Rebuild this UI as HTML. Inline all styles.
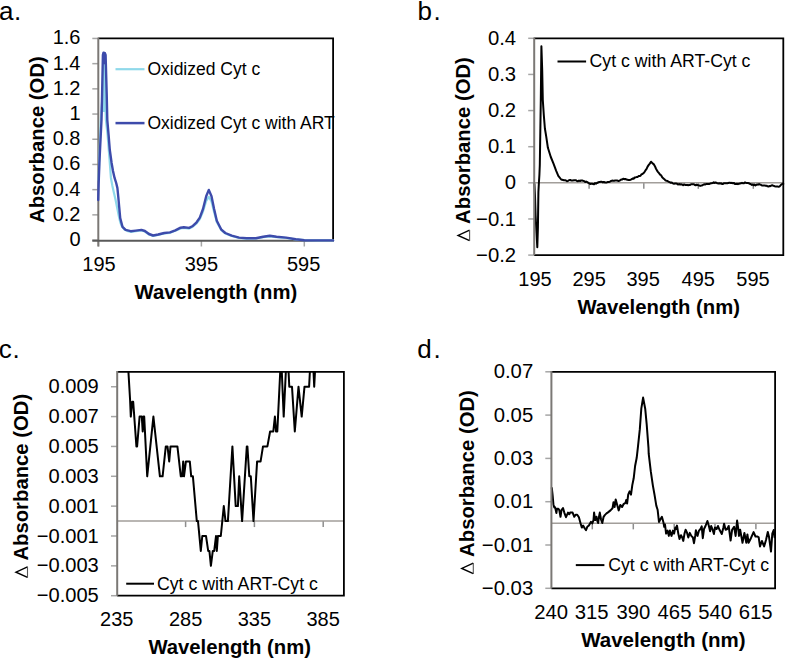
<!DOCTYPE html>
<html><head><meta charset="utf-8"><style>
html,body{margin:0;padding:0;background:#fff;width:785px;height:658px;overflow:hidden}
svg{display:block;font-family:"Liberation Sans",sans-serif;fill:#000}
</style></head><body>
<svg width="785" height="658" viewBox="0 0 785 658">
<text x="-1.1" y="20" text-anchor="start" font-size="26" >a</text>
<text x="13.9" y="20" text-anchor="start" font-size="26" >.</text>
<line x1="92.3" y1="38.45" x2="98.3" y2="38.45" stroke="#a6a6a6" stroke-width="1.5" stroke-linecap="butt"/>
<line x1="92.3" y1="63.65" x2="98.3" y2="63.65" stroke="#a6a6a6" stroke-width="1.5" stroke-linecap="butt"/>
<line x1="92.3" y1="88.85" x2="98.3" y2="88.85" stroke="#a6a6a6" stroke-width="1.5" stroke-linecap="butt"/>
<line x1="92.3" y1="114.05" x2="98.3" y2="114.05" stroke="#a6a6a6" stroke-width="1.5" stroke-linecap="butt"/>
<line x1="92.3" y1="139.25" x2="98.3" y2="139.25" stroke="#a6a6a6" stroke-width="1.5" stroke-linecap="butt"/>
<line x1="92.3" y1="164.45" x2="98.3" y2="164.45" stroke="#a6a6a6" stroke-width="1.5" stroke-linecap="butt"/>
<line x1="92.3" y1="189.65" x2="98.3" y2="189.65" stroke="#a6a6a6" stroke-width="1.5" stroke-linecap="butt"/>
<line x1="92.3" y1="214.85" x2="98.3" y2="214.85" stroke="#a6a6a6" stroke-width="1.5" stroke-linecap="butt"/>
<line x1="92.3" y1="240.05" x2="98.3" y2="240.05" stroke="#a6a6a6" stroke-width="1.5" stroke-linecap="butt"/>
<text x="80.5" y="44.2" text-anchor="end" font-size="20" >1.6</text>
<text x="80.5" y="69.5" text-anchor="end" font-size="20" >1.4</text>
<text x="80.5" y="94.7" text-anchor="end" font-size="20" >1.2</text>
<text x="80.5" y="119.9" text-anchor="end" font-size="20" >1</text>
<text x="80.5" y="145.1" text-anchor="end" font-size="20" >0.8</text>
<text x="80.5" y="170.3" text-anchor="end" font-size="20" >0.6</text>
<text x="80.5" y="195.5" text-anchor="end" font-size="20" >0.4</text>
<text x="80.5" y="220.7" text-anchor="end" font-size="20" >0.2</text>
<text x="80.5" y="245.9" text-anchor="end" font-size="20" >0</text>
<line x1="98.5" y1="240.7" x2="98.5" y2="246.5" stroke="#a6a6a6" stroke-width="1.5" stroke-linecap="butt"/>
<line x1="201.4" y1="240.7" x2="201.4" y2="246.5" stroke="#a6a6a6" stroke-width="1.5" stroke-linecap="butt"/>
<line x1="304.3" y1="240.7" x2="304.3" y2="246.5" stroke="#a6a6a6" stroke-width="1.5" stroke-linecap="butt"/>
<text x="99" y="270.5" text-anchor="middle" font-size="20" >195</text>
<text x="201.4" y="270.5" text-anchor="middle" font-size="20" >395</text>
<text x="303.6" y="270.5" text-anchor="middle" font-size="20" >595</text>
<text x="215.9" y="299" text-anchor="middle" font-size="20.3" font-weight="bold" >Wavelength (nm)</text>
<text x="0" y="0" text-anchor="start" font-size="20.3" font-weight="bold" transform="translate(44,223.0) rotate(-90)">Absorbance (OD)</text>
<line x1="115.5" y1="69.2" x2="144.5" y2="69.2" stroke="#8fd9ea" stroke-width="2.2" stroke-linecap="butt"/>
<text x="147.4" y="75" text-anchor="start" font-size="17.5" >Oxidized Cyt c</text>
<line x1="115.5" y1="123.1" x2="144.5" y2="123.1" stroke="#3d4bab" stroke-width="2.5" stroke-linecap="butt"/>
<text x="147.4" y="129" text-anchor="start" font-size="17.5" >Oxidized Cyt c with ART</text>
<path d="M98.3,38.45H333.1V240.7" fill="none" stroke="#000" stroke-width="1.8" stroke-linejoin="miter"/>
<polygon points="101.8,112 102.1,94 102.9,55 103.5,52.6 104.9,53.2 105.6,55 106.7,94 107.0,112" fill="#8fd9ea"/>
<polygon points="102.6,66 103.1,52.5 105.2,52.5 105.9,66" fill="#3d4bab"/>
<line x1="98.3" y1="37.65" x2="98.3" y2="246.5" stroke="#7b7875" stroke-width="2" stroke-linecap="butt"/>
<line x1="92.3" y1="240.7" x2="333.9" y2="240.7" stroke="#595959" stroke-width="2" stroke-linecap="butt"/>
<polyline points="98.6,180.0 99.2,163.0 100.0,140.0 100.8,120.0 101.8,105.0 102.9,94.0 103.9,65.1 105.1,94.0 105.9,120.0 107.6,135.0 108.7,149.0 109.8,163.0 110.9,177.7 112.4,186.0 113.8,192.2 115.6,200.0 117.2,208.0 118.8,216.0 120.2,222.0 121.5,225.5 124.5,229.5 128.0,231.2 131.0,231.8 136.0,231.2 141.4,230.5 144.9,231.5 149.0,234.5 153.1,236.0 158.2,235.0 164.3,233.5 170.0,232.8 175.3,230.8 180.6,228.5 183.8,228.0 189.1,228.6 192.3,227.0 196.6,223.3 199.8,219.0 203.0,211.5 206.2,201.0 208.8,196.8 211.5,201.5 214.1,212.0 216.8,222.0 221.1,229.8 225.3,233.4 231.7,236.0 239.1,238.0 246.6,238.6 255.9,238.5 263.2,237.2 269.8,236.3 276.5,237.2 286.1,238.0 295.8,239.4 304.3,240.2 317.6,240.4 333.1,240.4" fill="none" stroke="#8fd9ea" stroke-width="2.2" stroke-linejoin="round" stroke-linecap="round"/>
<polyline points="98.2,200.0 98.6,185.0 99.4,163.0 100.5,140.0 101.5,120.0 102.1,94.0 102.9,55.0 103.5,52.6 104.9,53.2 105.6,55.0 106.7,94.0 107.3,120.0 108.6,135.0 109.8,150.0 111.6,163.0 113.0,171.0 114.5,177.7 116.2,183.0 117.4,188.0 118.3,197.0 119.2,207.0 120.2,218.0 122.5,226.9 125.6,229.9 130.7,231.2 135.8,230.6 141.4,229.9 144.9,231.0 149.0,234.0 153.1,235.5 158.2,234.5 164.3,233.0 170.0,232.4 175.3,230.3 180.6,227.7 183.8,227.3 189.1,227.9 192.3,226.3 196.6,222.3 199.8,217.6 203.0,209.0 206.2,196.3 208.8,189.9 211.5,196.3 214.1,209.0 216.8,220.7 221.1,229.3 225.3,233.0 231.7,235.6 239.1,237.6 246.6,238.3 255.9,238.2 263.2,236.8 269.8,235.8 276.5,236.8 286.1,237.6 295.8,239.2 304.3,240.2 317.6,240.4 333.1,240.4" fill="none" stroke="#3d4bab" stroke-width="2.4" stroke-linejoin="round" stroke-linecap="round"/>
<text x="417.5" y="19.9" text-anchor="start" font-size="26" >b</text>
<text x="433.4" y="19.9" text-anchor="start" font-size="26" >.</text>
<line x1="528.2" y1="38.3" x2="534.2" y2="38.3" stroke="#a6a6a6" stroke-width="1.5" stroke-linecap="butt"/>
<line x1="528.2" y1="74.43" x2="534.2" y2="74.43" stroke="#a6a6a6" stroke-width="1.5" stroke-linecap="butt"/>
<line x1="528.2" y1="110.57" x2="534.2" y2="110.57" stroke="#a6a6a6" stroke-width="1.5" stroke-linecap="butt"/>
<line x1="528.2" y1="146.7" x2="534.2" y2="146.7" stroke="#a6a6a6" stroke-width="1.5" stroke-linecap="butt"/>
<line x1="528.2" y1="182.83" x2="534.2" y2="182.83" stroke="#a6a6a6" stroke-width="1.5" stroke-linecap="butt"/>
<line x1="528.2" y1="218.97" x2="534.2" y2="218.97" stroke="#a6a6a6" stroke-width="1.5" stroke-linecap="butt"/>
<line x1="528.2" y1="255.1" x2="534.2" y2="255.1" stroke="#a6a6a6" stroke-width="1.5" stroke-linecap="butt"/>
<text x="516.1" y="44.9" text-anchor="end" font-size="20.3" >0.4</text>
<text x="516.1" y="81.0" text-anchor="end" font-size="20.3" >0.3</text>
<text x="516.1" y="117.2" text-anchor="end" font-size="20.3" >0.2</text>
<text x="516.1" y="153.3" text-anchor="end" font-size="20.3" >0.1</text>
<text x="516.1" y="189.4" text-anchor="end" font-size="20.3" >0</text>
<text x="516.1" y="225.6" text-anchor="end" font-size="20.3" >−0.1</text>
<text x="516.1" y="261.7" text-anchor="end" font-size="20.3" >−0.2</text>
<line x1="589.1" y1="182.83" x2="589.1" y2="188.83" stroke="#8e8e8e" stroke-width="1.5" stroke-linecap="butt"/>
<line x1="643.8" y1="182.83" x2="643.8" y2="188.83" stroke="#8e8e8e" stroke-width="1.5" stroke-linecap="butt"/>
<line x1="698.3" y1="182.83" x2="698.3" y2="188.83" stroke="#8e8e8e" stroke-width="1.5" stroke-linecap="butt"/>
<line x1="753.3" y1="182.83" x2="753.3" y2="188.83" stroke="#8e8e8e" stroke-width="1.5" stroke-linecap="butt"/>
<text x="535" y="285.6" text-anchor="middle" font-size="20" >195</text>
<text x="589.2" y="285.6" text-anchor="middle" font-size="20" >295</text>
<text x="643.2" y="285.6" text-anchor="middle" font-size="20" >395</text>
<text x="698.3" y="285.6" text-anchor="middle" font-size="20" >495</text>
<text x="753" y="285.6" text-anchor="middle" font-size="20" >595</text>
<text x="658.7" y="313.6" text-anchor="middle" font-size="20.3" font-weight="bold" >Wavelength (nm)</text>
<text x="0" y="0" text-anchor="start" font-size="20.3" font-weight="bold" transform="translate(470.1,223.9) rotate(-90)">Absorbance (OD)</text>
<polyline points="469.6,230.20000000000002 458.1,235.45000000000002 469.6,240.70000000000002" fill="none" stroke="#000" stroke-width="1.45" stroke-linejoin="miter"/>
<line x1="469.6" y1="229.9" x2="469.6" y2="241.00000000000003" stroke="#555" stroke-width="1.1"/>
<line x1="557.5" y1="61.5" x2="586.1" y2="61.5" stroke="#000" stroke-width="2" stroke-linecap="butt"/>
<text x="589.6" y="67.3" text-anchor="start" font-size="17.7" >Cyt c with ART-Cyt c</text>
<line x1="534.2" y1="182.83" x2="783.3" y2="182.83" stroke="#a29e9a" stroke-width="1.5" stroke-linecap="butt"/>
<polyline points="534.4,184.0 535.0,196.0 535.6,215.6 536.5,233.0 537.3,247.2 537.9,228.0 538.4,192.0 538.9,182.6 539.4,175.0 539.8,165.0 540.8,100.0 541.4,46.2 542.2,70.0 542.8,100.0 543.8,115.0 544.9,128.5 546.2,136.4 547.9,147.8 550.8,157.0 553.6,163.8 556.2,170.8 558.3,175.8 561.2,179.5 564.1,180.2 565.1,180.3 566.0,180.5 567.0,181.2 568.0,180.9 569.0,180.2 570.2,179.9 571.4,180.6 572.7,180.4 574.0,180.2 575.0,180.3 576.0,180.2 577.0,181.0 578.0,181.2 579.0,180.6 580.0,181.0 581.0,180.5 582.0,180.4 583.0,180.8 584.1,181.1 585.2,182.0 586.2,181.6 587.3,182.2 588.4,182.9 589.3,183.3 590.2,183.9 591.2,183.7 592.1,183.7 593.0,184.1 594.0,184.3 595.0,183.1 596.0,183.7 597.0,183.0 598.0,182.5 598.9,182.1 599.9,181.9 600.8,181.8 601.8,181.8 602.9,182.4 603.9,181.9 605.0,182.5 606.0,182.4 606.9,182.4 607.9,181.9 608.8,182.0 609.8,181.8 610.9,181.0 611.9,180.8 613.0,180.6 614.0,180.9 615.1,180.4 616.1,180.4 617.0,180.4 618.0,180.9 619.0,180.9 620.0,180.3 621.1,179.6 622.2,179.6 623.2,178.7 624.3,179.2 625.3,178.9 626.4,179.6 627.4,179.8 628.5,180.0 629.7,180.1 630.8,179.6 632.0,179.0 632.9,178.4 633.8,178.8 634.7,177.4 635.6,177.4 636.5,177.1 637.5,177.1 638.5,176.1 639.5,176.1 640.5,175.8 641.5,174.3 642.5,174.0 643.6,173.1 644.6,171.8 645.6,170.2 646.6,168.9 647.6,166.6 648.6,165.1 649.8,163.6 651.0,161.7 652.0,162.7 652.9,163.6 653.9,164.4 654.9,166.2 655.9,168.5 656.9,170.4 657.9,171.8 659.0,173.1 660.1,174.6 661.1,175.3 662.2,177.3 663.3,178.4 664.4,179.2 665.4,180.3 666.5,180.8 667.5,180.9 668.6,181.8 669.7,182.1 670.8,182.8 671.8,182.5 672.9,183.4 674.0,183.8 675.0,183.6 676.0,183.6 677.0,183.7 678.0,184.6 679.0,184.0 680.0,184.5 681.0,184.3 682.1,184.5 683.1,185.2 684.1,184.4 685.2,184.9 686.2,185.0 687.2,184.9 688.1,185.2 689.1,185.0 690.1,184.9 691.1,184.2 692.0,184.2 693.0,184.2 693.9,184.3 694.8,185.0 695.7,185.3 696.6,184.7 697.5,184.9 698.4,185.2 699.3,185.4 700.2,185.9 701.2,185.6 702.1,185.5 703.1,184.8 704.1,184.3 705.1,184.5 706.0,184.1 707.0,184.0 708.0,183.9 708.9,184.1 709.9,183.7 710.8,183.3 711.8,183.2 712.7,183.1 713.7,182.3 714.6,183.0 715.6,182.4 716.5,182.9 717.4,183.3 718.3,183.4 719.3,183.2 720.2,183.4 721.1,183.3 722.0,184.0 722.9,184.1 723.8,183.3 724.7,183.3 725.6,183.3 726.5,183.2 727.4,183.3 728.3,182.9 729.2,182.7 730.1,182.8 731.0,183.1 732.0,182.8 733.0,183.3 734.0,183.0 735.0,184.1 736.0,184.0 737.0,183.7 738.0,184.2 739.0,183.7 740.0,183.5 741.0,183.3 742.0,182.8 743.0,183.3 744.0,183.2 745.0,182.4 745.9,182.7 746.9,183.0 747.8,182.9 748.8,183.2 749.7,183.8 750.7,184.0 751.6,184.9 752.6,184.5 753.5,185.2 754.4,184.6 755.4,185.5 756.3,184.9 757.2,184.4 758.1,184.7 759.1,184.1 760.0,184.5 760.9,184.8 761.9,185.5 762.8,185.6 763.8,185.6 764.7,185.4 765.6,185.7 766.6,185.7 767.5,186.3 768.4,186.5 769.3,186.1 770.2,186.2 771.2,185.6 772.1,185.3 773.0,185.5 773.9,186.0 774.8,186.3 775.7,186.4 776.7,186.5 777.6,186.6 778.5,186.7 779.4,186.6 781.0,184.8 782.1,184.0 783.3,183.8" fill="none" stroke="#000" stroke-width="2" stroke-linejoin="round" stroke-linecap="round"/>
<path d="M534.2,38.3H783.3V255.1H534.2" fill="none" stroke="#000" stroke-width="1.8" stroke-linejoin="miter"/>
<line x1="534.2" y1="37.5" x2="534.2" y2="255.1" stroke="#7b7875" stroke-width="2" stroke-linecap="butt"/>
<text x="-1.2" y="358.3" text-anchor="start" font-size="26" >c</text>
<text x="12.6" y="358.3" text-anchor="start" font-size="26" >.</text>
<line x1="111" y1="386.73" x2="117.2" y2="386.73" stroke="#a6a6a6" stroke-width="1.5" stroke-linecap="butt"/>
<line x1="111" y1="416.58" x2="117.2" y2="416.58" stroke="#a6a6a6" stroke-width="1.5" stroke-linecap="butt"/>
<line x1="111" y1="446.43" x2="117.2" y2="446.43" stroke="#a6a6a6" stroke-width="1.5" stroke-linecap="butt"/>
<line x1="111" y1="476.29" x2="117.2" y2="476.29" stroke="#a6a6a6" stroke-width="1.5" stroke-linecap="butt"/>
<line x1="111" y1="506.14" x2="117.2" y2="506.14" stroke="#a6a6a6" stroke-width="1.5" stroke-linecap="butt"/>
<line x1="111" y1="535.99" x2="117.2" y2="535.99" stroke="#a6a6a6" stroke-width="1.5" stroke-linecap="butt"/>
<line x1="111" y1="565.85" x2="117.2" y2="565.85" stroke="#a6a6a6" stroke-width="1.5" stroke-linecap="butt"/>
<line x1="111" y1="595.7" x2="117.2" y2="595.7" stroke="#a6a6a6" stroke-width="1.5" stroke-linecap="butt"/>
<text x="98.8" y="393.2" text-anchor="end" font-size="20.1" >0.009</text>
<text x="98.8" y="423.1" text-anchor="end" font-size="20.1" >0.007</text>
<text x="98.8" y="452.9" text-anchor="end" font-size="20.1" >0.005</text>
<text x="98.8" y="482.8" text-anchor="end" font-size="20.1" >0.003</text>
<text x="98.8" y="512.6" text-anchor="end" font-size="20.1" >0.001</text>
<text x="98.8" y="542.5" text-anchor="end" font-size="20.1" >−0.001</text>
<text x="98.8" y="572.3" text-anchor="end" font-size="20.1" >−0.003</text>
<text x="98.8" y="602.2" text-anchor="end" font-size="20.1" >−0.005</text>
<line x1="185.6" y1="521.07" x2="185.6" y2="527.07" stroke="#8e8e8e" stroke-width="1.5" stroke-linecap="butt"/>
<line x1="254.4" y1="521.07" x2="254.4" y2="527.07" stroke="#8e8e8e" stroke-width="1.5" stroke-linecap="butt"/>
<line x1="323.2" y1="521.07" x2="323.2" y2="527.07" stroke="#8e8e8e" stroke-width="1.5" stroke-linecap="butt"/>
<text x="116.8" y="625.8" text-anchor="middle" font-size="20" >235</text>
<text x="185.6" y="625.8" text-anchor="middle" font-size="20" >285</text>
<text x="254.4" y="625.8" text-anchor="middle" font-size="20" >335</text>
<text x="323.2" y="625.8" text-anchor="middle" font-size="20" >385</text>
<text x="229.7" y="654" text-anchor="middle" font-size="20.3" font-weight="bold" >Wavelength (nm)</text>
<text x="0" y="0" text-anchor="start" font-size="20.3" font-weight="bold" transform="translate(28,560.6) rotate(-90)">Absorbance (OD)</text>
<polyline points="27.5,566.9 16.0,572.15 27.5,577.4" fill="none" stroke="#000" stroke-width="1.45" stroke-linejoin="miter"/>
<line x1="27.5" y1="566.6" x2="27.5" y2="577.6999999999999" stroke="#555" stroke-width="1.1"/>
<line x1="126.2" y1="583.7" x2="154" y2="583.7" stroke="#000" stroke-width="2" stroke-linecap="butt"/>
<text x="157" y="590" text-anchor="start" font-size="17.7" >Cyt c with ART-Cyt c</text>
<line x1="117.2" y1="521.07" x2="343.9" y2="521.07" stroke="#a29e9a" stroke-width="1.5" stroke-linecap="butt"/>
<clipPath id="cc"><rect x="117.2" y="371.8" width="226.7" height="223.90000000000003"/></clipPath>
<polyline points="127.8,360.0 128.6,374.8 130.1,400.2 130.8,416.6 132.2,401.7 133.2,401.7 136.4,446.4 137.1,446.4 139.6,416.6 141.8,416.6 142.7,431.5 143.5,416.6 144.2,416.6 147.2,476.3 153.4,416.6 159.9,476.3 162.6,476.3 165.8,446.4 167.5,446.4 169.2,461.4 170.5,446.4 177.4,446.4 180.8,476.3 182.2,476.3 183.2,461.4 184.0,476.3 185.9,461.4 189.8,461.4 191.2,476.3 192.9,476.3 196.8,521.1 198.0,521.1 200.8,550.9 202.3,536.0 206.0,536.0 208.2,550.9 209.4,550.9 210.9,565.8 212.8,550.9 214.2,550.9 216.0,536.0 216.8,550.9 217.9,536.0 220.8,536.0 223.8,506.1 225.5,521.1 227.9,521.1 232.4,446.4 235.7,506.1 237.9,506.1 239.2,476.3 242.1,521.1 246.8,446.4 247.4,446.4 249.3,476.3 250.8,476.3 253.5,521.1 257.1,461.4 260.6,461.4 263.0,446.4 267.4,446.4 270.1,431.5 273.3,431.5 274.9,416.6 276.0,431.5 277.3,431.5 280.8,360.0 281.3,360.0 283.7,416.6 286.4,360.0 288.0,360.0 289.3,386.7 292.0,386.7 294.8,431.5 298.5,386.7 301.7,416.6 304.5,386.7 309.1,386.7 310.5,360.0 313.0,360.0 314.2,386.7 315.6,360.0 345.0,360.0" fill="none" stroke="#000" stroke-width="2" stroke-linejoin="round" stroke-linecap="round" clip-path="url(#cc)"/>
<path d="M117.2,371.8H343.9V595.7H117.2" fill="none" stroke="#000" stroke-width="1.8" stroke-linejoin="miter"/>
<line x1="117.2" y1="371.0" x2="117.2" y2="595.7" stroke="#7b7875" stroke-width="2" stroke-linecap="butt"/>
<text x="417.3" y="358.3" text-anchor="start" font-size="26" >d</text>
<text x="433.4" y="358.3" text-anchor="start" font-size="26" >.</text>
<line x1="545.3" y1="371.8" x2="551.4" y2="371.8" stroke="#a6a6a6" stroke-width="1.5" stroke-linecap="butt"/>
<line x1="545.3" y1="415.1" x2="551.4" y2="415.1" stroke="#a6a6a6" stroke-width="1.5" stroke-linecap="butt"/>
<line x1="545.3" y1="458.4" x2="551.4" y2="458.4" stroke="#a6a6a6" stroke-width="1.5" stroke-linecap="butt"/>
<line x1="545.3" y1="501.7" x2="551.4" y2="501.7" stroke="#a6a6a6" stroke-width="1.5" stroke-linecap="butt"/>
<line x1="545.3" y1="545.0" x2="551.4" y2="545.0" stroke="#a6a6a6" stroke-width="1.5" stroke-linecap="butt"/>
<line x1="545.3" y1="588.3" x2="551.4" y2="588.3" stroke="#a6a6a6" stroke-width="1.5" stroke-linecap="butt"/>
<text x="533.2" y="378.4" text-anchor="end" font-size="20.3" >0.07</text>
<text x="533.2" y="421.7" text-anchor="end" font-size="20.3" >0.05</text>
<text x="533.2" y="465.0" text-anchor="end" font-size="20.3" >0.03</text>
<text x="533.2" y="508.3" text-anchor="end" font-size="20.3" >0.01</text>
<text x="533.2" y="551.6" text-anchor="end" font-size="20.3" >−0.01</text>
<text x="533.2" y="594.9" text-anchor="end" font-size="20.3" >−0.03</text>
<line x1="592.3" y1="523.35" x2="592.3" y2="529.35" stroke="#8e8e8e" stroke-width="1.5" stroke-linecap="butt"/>
<line x1="633.3" y1="523.35" x2="633.3" y2="529.35" stroke="#8e8e8e" stroke-width="1.5" stroke-linecap="butt"/>
<line x1="674.2" y1="523.35" x2="674.2" y2="529.35" stroke="#8e8e8e" stroke-width="1.5" stroke-linecap="butt"/>
<line x1="715" y1="523.35" x2="715" y2="529.35" stroke="#8e8e8e" stroke-width="1.5" stroke-linecap="butt"/>
<line x1="755.9" y1="523.35" x2="755.9" y2="529.35" stroke="#8e8e8e" stroke-width="1.5" stroke-linecap="butt"/>
<text x="551.2" y="619.2" text-anchor="middle" font-size="20.3" >240</text>
<text x="591.7" y="619.2" text-anchor="middle" font-size="20.3" >315</text>
<text x="633.3" y="619.2" text-anchor="middle" font-size="20.3" >390</text>
<text x="674.5" y="619.2" text-anchor="middle" font-size="20.3" >465</text>
<text x="715.2" y="619.2" text-anchor="middle" font-size="20.3" >540</text>
<text x="755.7" y="619.2" text-anchor="middle" font-size="20.3" >615</text>
<text x="663.4" y="647.4" text-anchor="middle" font-size="20.5" font-weight="bold" >Wavelength (nm)</text>
<text x="0" y="0" text-anchor="start" font-size="20.3" font-weight="bold" transform="translate(473.8,556.9) rotate(-90)">Absorbance (OD)</text>
<polyline points="473.3,563.1999999999999 461.8,568.4499999999999 473.3,573.6999999999999" fill="none" stroke="#000" stroke-width="1.45" stroke-linejoin="miter"/>
<line x1="473.3" y1="562.9" x2="473.3" y2="573.9999999999999" stroke="#555" stroke-width="1.1"/>
<line x1="575.8" y1="565.1" x2="604.4" y2="565.1" stroke="#000" stroke-width="2" stroke-linecap="butt"/>
<text x="608.2" y="571.4" text-anchor="start" font-size="17.7" >Cyt c with ART-Cyt c</text>
<line x1="551.4" y1="523.35" x2="775.1" y2="523.35" stroke="#a29e9a" stroke-width="1.5" stroke-linecap="butt"/>
<polyline points="551.8,487.9 552.6,495.0 553.4,504.2 554.3,507.6 555.1,507.2 556.4,513.0 557.0,508.8 558.4,508.8 559.3,510.1 560.5,516.8 561.5,510.1 563.0,508.0 564.3,512.6 566.0,517.2 568.0,512.6 569.3,514.3 570.1,512.6 572.6,512.6 574.3,516.8 575.6,514.7 577.2,514.7 578.9,517.2 580.6,523.4 581.8,527.6 583.1,525.5 584.8,528.5 586.0,530.1 587.3,526.8 588.9,525.5 591.0,521.8 592.3,523.4 593.5,520.1 594.1,512.6 595.2,520.1 596.5,516.8 597.3,520.9 598.1,523.0 599.0,516.8 599.8,512.6 601.0,519.3 602.3,523.0 603.6,516.8 604.8,515.1 606.5,513.4 608.0,512.4 610.5,510.4 612.5,508.3 613.5,502.2 614.6,507.0 615.7,499.5 617.0,504.2 618.7,510.4 620.3,504.9 622.1,507.0 623.5,504.2 625.5,502.9 626.2,499.9 627.1,503.6 628.2,494.7 629.6,491.3 631.0,494.7 632.3,485.1 633.7,478.3 635.1,466.0 636.7,457.8 637.8,448.2 639.8,429.4 641.3,408.7 643.1,397.6 645.2,408.7 646.7,424.5 648.5,448.2 648.7,453.7 650.8,471.4 652.8,485.1 654.5,494.7 656.3,505.6 657.6,509.7 659.0,522.0 660.4,519.3 661.9,516.8 663.4,522.2 664.2,526.8 665.0,524.5 666.1,533.6 667.6,530.6 668.8,535.9 669.9,530.6 671.5,535.9 673.0,530.6 674.1,533.6 675.3,527.5 676.1,529.0 677.0,525.6 678.3,533.6 679.5,539.0 681.0,535.2 682.2,537.5 683.3,540.9 684.5,533.6 685.6,529.8 686.8,532.1 688.3,537.5 689.8,532.9 691.3,535.9 692.9,537.5 694.0,543.2 695.2,535.9 695.9,530.2 697.5,535.9 699.0,530.6 700.5,529.0 701.7,526.4 702.8,538.2 704.0,529.0 705.5,526.0 707.4,521.0 708.9,526.0 710.1,531.3 711.2,526.0 712.4,529.0 713.9,534.0 715.0,527.5 716.6,529.0 718.0,526.0 719.5,529.8 721.8,534.0 723.4,527.5 724.1,523.7 725.6,529.8 727.2,529.0 728.7,526.0 730.6,540.5 732.1,529.8 734.1,526.8 735.6,535.9 737.1,520.6 738.3,529.0 739.0,535.9 740.2,529.8 742.5,542.8 744.4,532.9 746.3,542.8 747.4,534.4 748.6,542.8 750.9,538.2 753.6,532.1 755.5,536.5 757.5,536.5 758.7,537.3 760.0,546.4 761.9,541.0 764.1,546.4 766.0,540.0 767.8,531.9 769.1,537.3 771.0,551.5 772.3,533.7 773.7,530.0 774.6,537.3" fill="none" stroke="#000" stroke-width="2" stroke-linejoin="round" stroke-linecap="round"/>
<path d="M551.4,371.8H775.1V588.3H551.4" fill="none" stroke="#000" stroke-width="1.8" stroke-linejoin="miter"/>
<line x1="551.4" y1="371.0" x2="551.4" y2="588.3" stroke="#7b7875" stroke-width="2" stroke-linecap="butt"/>
</svg>
</body></html>
